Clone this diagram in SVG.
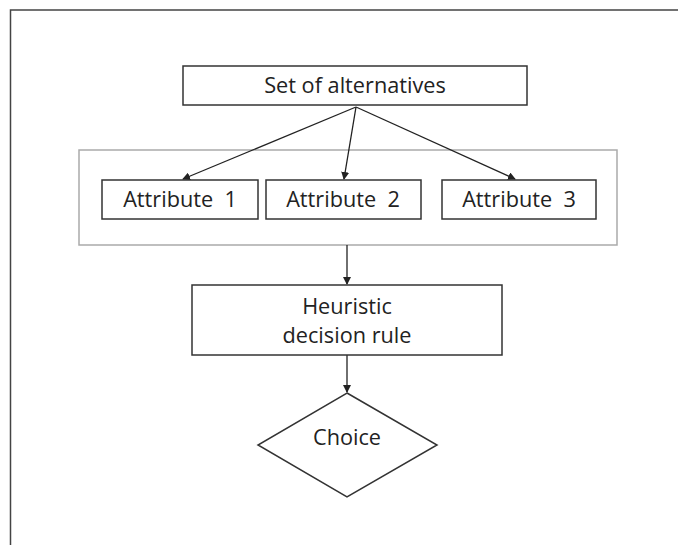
<svg xmlns="http://www.w3.org/2000/svg" width="678" height="545" viewBox="0 0 678 545">
<defs>
<style>
.box{fill:#fff;stroke:#333;stroke-width:1.5}
.grp{fill:none;stroke:#aaa;stroke-width:1.5}
.t{font-family:"Open Sans","Liberation Sans",sans-serif;font-size:21.7px;fill:#222;text-anchor:middle;white-space:pre}
.c{stroke:#222;stroke-width:1.3;fill:none;marker-end:url(#ah)}
</style>
<marker id="ah" markerWidth="8" markerHeight="8" refX="7" refY="4" orient="auto" markerUnits="userSpaceOnUse">
<path d="M0,0 L8,4 L0,8 Z" fill="#222"/>
</marker>
</defs>
<rect width="678" height="545" fill="#fff"/>
<path d="M10.5,545 V10 H678" fill="none" stroke="#444" stroke-width="1.5"/>
<g id="group-attributes"><rect class="grp" x="79" y="150" width="538" height="95"/></g>
<g id="connectors">
<line class="c" x1="356" y1="107" x2="183" y2="179"/>
<line class="c" x1="356" y1="107" x2="344" y2="179"/>
<line class="c" x1="356" y1="107" x2="515" y2="179"/>
<line class="c" x1="347" y1="245" x2="347" y2="284"/>
<line class="c" x1="347" y1="355" x2="347" y2="392"/>
</g>
<g id="node-set"><rect class="box" x="183" y="66" width="344" height="39"/><text class="t" x="355" y="93">Set of alternatives</text></g>
<g id="node-attr1"><rect class="box" x="102" y="180" width="156" height="39"/><text class="t" x="180" y="207">Attribute  1</text></g>
<g id="node-attr2"><rect class="box" x="266" y="180" width="155" height="39"/><text class="t" x="343" y="207">Attribute  2</text></g>
<g id="node-attr3"><rect class="box" x="442" y="180" width="154" height="39"/><text class="t" x="519" y="207">Attribute  3</text></g>
<g id="node-heuristic"><rect class="box" x="192" y="285" width="310" height="70"/><text class="t" x="347" y="314">Heuristic</text><text class="t" x="347" y="343">decision rule</text></g>
<g id="node-choice"><polygon class="box" points="347,393 437,445 347,497 258,445"/><text class="t" x="347" y="445">Choice</text></g>
</svg>
